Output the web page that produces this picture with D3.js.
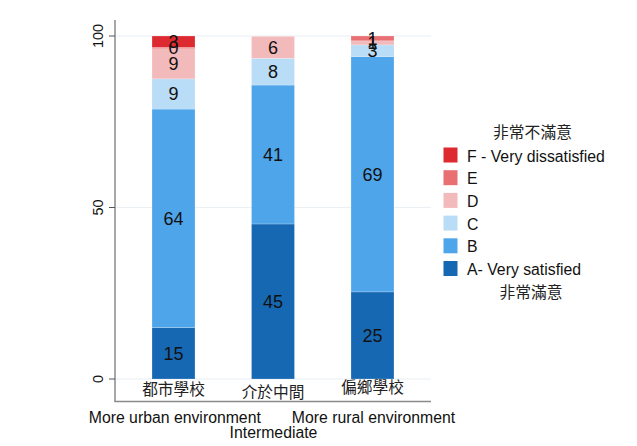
<!DOCTYPE html>
<html><head><meta charset="utf-8">
<script src="https://cdn.jsdelivr.net/npm/d3@7"></script>
<style>body{margin:0;background:#fff;} svg{display:block;}</style>
</head><body>
<svg id="c" width="637" height="446"></svg>
<script>
const categories = ["都市學校", "介於中間", "偏鄉學校"];
const seriesKeys = ["A", "B", "C", "D", "E", "F"];
const seriesNames = ["A- Very satisfied", "B", "C", "D", "E", "F - Very dissatisfied"];
const seriesColors = ["#1768b3", "#4fa5ea", "#b9dcf7", "#f3babc", "#e86f72", "#dd2a30"];
const valuesA = [15.0, 45.2, 25.4];
const valuesB = [63.7, 40.5, 68.6];
const valuesC = [8.8, 7.8, 3.4];
const valuesD = [8.8, 6.4, 1.2];
const valuesE = [0.4, 0, 1.4];
const valuesF = [3.3, 0, 0];
const yTicks = [0, 50, 100];
const subLabels = ["More urban environment", "Intermediate", "More rural environment"];

const svg = d3.select("#c");
const data = categories.map((c, i) => ({cat: c, A: valuesA[i], B: valuesB[i], C: valuesC[i], D: valuesD[i], E: valuesE[i], F: valuesF[i]}));
const stack = d3.stack().keys(seriesKeys)(data);

const y = d3.scaleLinear().domain([0, 100]).range([379, 36]);
const x = d3.scaleBand().domain(categories).range([115, 431]).paddingInner(0.568).paddingOuter(0.372);
const color = d3.scaleOrdinal().domain(seriesKeys).range(seriesColors);
const FONT = "'Liberation Sans', Arial, sans-serif";
const CJK = "'Noto Sans CJK TC', 'Noto Sans CJK SC', sans-serif";

// gridlines
svg.append("g").selectAll("line").data(yTicks).join("line")
  .attr("x1", 115).attr("x2", 431).attr("y1", d => y(d)).attr("y2", d => y(d))
  .attr("stroke", "#eaf0f4").attr("stroke-width", 1.2);

// bars
const layers = svg.append("g").selectAll("g").data(stack).join("g").attr("fill", d => color(d.key));
layers.selectAll("rect").data(d => d).join("rect")
  .attr("x", d => x(d.data.cat)).attr("width", x.bandwidth())
  .attr("y", d => y(d[1])).attr("height", d => Math.max(0, y(d[0]) - y(d[1])))
  .attr("stroke", "#ffffff").attr("stroke-opacity", 0.35).attr("stroke-width", 0.6);

// bar labels
stack.forEach(layer => {
  svg.append("g").selectAll("text").data(layer.filter(d => d[1] - d[0] > 0)).join("text")
    .attr("x", d => x(d.data.cat) + x.bandwidth() / 2)
    .attr("y", d => (y(d[0]) + y(d[1])) / 2)
    .attr("dy", "0.36em").attr("text-anchor", "middle")
    .attr("font-family", FONT).attr("font-size", 18).attr("fill", "#111")
    .text(d => Math.round(d[1] - d[0]));
});

// axes lines
svg.append("line").attr("x1", 115).attr("x2", 115).attr("y1", 20).attr("y2", 401.5).attr("stroke", "#8a8a8a").attr("stroke-width", 1.5);
svg.append("line").attr("x1", 114.3).attr("x2", 431).attr("y1", 401.5).attr("y2", 401.5).attr("stroke", "#8a8a8a").attr("stroke-width", 1.5);

// y ticks
const yt = svg.append("g").selectAll("g").data(yTicks).join("g");
yt.append("line").attr("x1", 109).attr("x2", 115).attr("y1", d => y(d)).attr("y2", d => y(d)).attr("stroke", "#555").attr("stroke-width", 1);
yt.append("text").attr("transform", d => `translate(103,${y(d)}) rotate(-90)`)
  .attr("text-anchor", "middle").attr("font-family", FONT).attr("font-size", 14.5).attr("fill", "#111")
  .text(d => d);

// category labels (small baseline shifts as in the reference)
const catShift = [0, 2.5, -2];
svg.append("g").selectAll("text").data(categories).join("text")
  .attr("x", d => x(d) + x.bandwidth() / 2).attr("y", (d, i) => 395 + catShift[i])
  .attr("text-anchor", "middle").attr("font-family", CJK).attr("font-size", 15.7).attr("fill", "#222")
  .text(d => d);

// sub labels
const subX = [174.8, 273.5, 373.5];
const subY = [422.7, 437.5, 422.7];
svg.append("g").selectAll("text").data(subLabels).join("text")
  .attr("x", (d, i) => subX[i]).attr("y", (d, i) => subY[i]).attr("text-anchor", "middle")
  .attr("font-family", FONT).attr("font-size", 15.8).attr("fill", "#111").text(d => d);

// legend
svg.append("text").attr("x", 532.5).attr("y", 137.5).attr("text-anchor", "middle").attr("font-family", CJK).attr("font-size", 15.8).attr("fill", "#222").text("非常不滿意");
const legendOrder = seriesKeys.map((k, i) => ({key: k, name: seriesNames[i]})).reverse();
const lg = svg.append("g").selectAll("g").data(legendOrder).join("g")
  .attr("transform", (d, i) => `translate(443.5,${147.5 + i * 22.7})`);
lg.append("rect").attr("width", 14).attr("height", 15).attr("fill", d => color(d.key));
lg.append("text").attr("x", 23.5).attr("y", 14).attr("font-family", FONT).attr("font-size", 15.8).attr("fill", "#111").text(d => d.name);
svg.append("text").attr("x", 531).attr("y", 298).attr("text-anchor", "middle").attr("font-family", CJK).attr("font-size", 15.8).attr("fill", "#222").text("非常滿意");
</script>
</body></html>
